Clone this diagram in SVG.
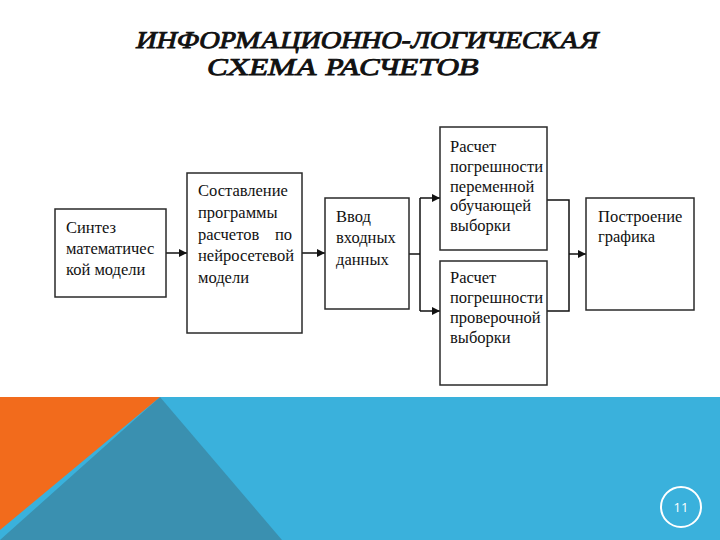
<svg xmlns="http://www.w3.org/2000/svg" width="720" height="540" viewBox="0 0 720 540">
<style>
.box{fill:#fff;stroke:#2a2a2a;stroke-width:1.5}
.t{font-family:"Liberation Serif","Times New Roman",serif;font-size:16.5px;fill:#111}
.title{font-family:"Liberation Serif","Times New Roman",serif;font-size:24px;fill:#111;stroke:#111;stroke-width:0.9}
.c{fill:none;stroke:#111;stroke-width:1.5}
</style>
<defs>
<marker id="ah" viewBox="0 0 10 10" refX="10" refY="5" markerWidth="8" markerHeight="8" markerUnits="userSpaceOnUse" orient="auto">
<path d="M0,0 L10,5 L0,10 z" fill="#111"/>
</marker>
</defs>
<rect width="720" height="540" fill="#fff"/>
<g id="background">
<rect x="0" y="397" width="720" height="143" fill="#3AB1DC"/>
<polygon points="160,397 0,540 282,540" fill="#3A90B0"/>
<polygon points="0,397 160,397 0,530" fill="#F26B1C"/>
<circle cx="681" cy="507" r="20" fill="none" stroke="#fff" stroke-width="2"/>
<text x="681" y="512" font-family="'Open Sans','Liberation Sans',sans-serif" font-size="13" fill="#fff" text-anchor="middle">11</text>
</g>
<g id="title">
<text class="title" transform="translate(0,48) skewX(-13)" x="135" y="0" textLength="462" lengthAdjust="spacingAndGlyphs">ИНФОРМАЦИОННО-ЛОГИЧЕСКАЯ</text>
<text class="title" transform="translate(0,75) skewX(-13)" x="206" y="0" textLength="272" lengthAdjust="spacingAndGlyphs">СХЕМА РАСЧЕТОВ</text>
</g>
<g id="connectors">
<line class="c" x1="166" y1="253" x2="187" y2="253" marker-end="url(#ah)"/>
<line class="c" x1="302" y1="253" x2="325" y2="253" marker-end="url(#ah)"/>
<polyline class="c" points="409,254 420,254"/>
<polyline class="c" points="420,198 420,311"/>
<line class="c" x1="420" y1="198" x2="440" y2="198" marker-end="url(#ah)"/>
<line class="c" x1="420" y1="311" x2="440" y2="311" marker-end="url(#ah)"/>
<polyline class="c" points="547,200 569,200 569,311 547,311"/>
<line class="c" x1="569" y1="254" x2="586" y2="254" marker-end="url(#ah)"/>
</g>
<g id="n1">
<rect class="box" x="55" y="209" width="111" height="88"/>
<text class="t" x="66" y="233">Синтез</text>
<text class="t" x="66" y="254">математичес</text>
<text class="t" x="66" y="275">кой модели</text>
</g>
<g id="n2">
<rect class="box" x="187" y="173" width="115" height="160"/>
<text class="t" x="198" y="196">Составление</text>
<text class="t" x="198" y="218">программы</text>
<text class="t" x="198" y="240">расчетов <tspan x="275">по</tspan></text>
<text class="t" x="198" y="261">нейросетевой</text>
<text class="t" x="198" y="283">модели</text>
</g>
<g id="n3">
<rect class="box" x="325" y="198" width="84" height="111"/>
<text class="t" x="336" y="222">Ввод</text>
<text class="t" x="336" y="243">входных</text>
<text class="t" x="336" y="265">данных</text>
</g>
<g id="n4">
<rect class="box" x="440" y="127" width="107" height="123"/>
<text class="t" x="450" y="152">Расчет</text>
<text class="t" x="450" y="172">погрешности</text>
<text class="t" x="450" y="192">переменной</text>
<text class="t" x="450" y="211">обучающей</text>
<text class="t" x="450" y="231">выборки</text>
</g>
<g id="n5">
<rect class="box" x="440" y="261" width="107" height="124"/>
<text class="t" x="450" y="283">Расчет</text>
<text class="t" x="450" y="303">погрешности</text>
<text class="t" x="450" y="323">проверочной</text>
<text class="t" x="450" y="343">выборки</text>
</g>
<g id="n6">
<rect class="box" x="586" y="198" width="108" height="112"/>
<text class="t" x="598" y="222">Построение</text>
<text class="t" x="598" y="242">графика</text>
</g>
</svg>
